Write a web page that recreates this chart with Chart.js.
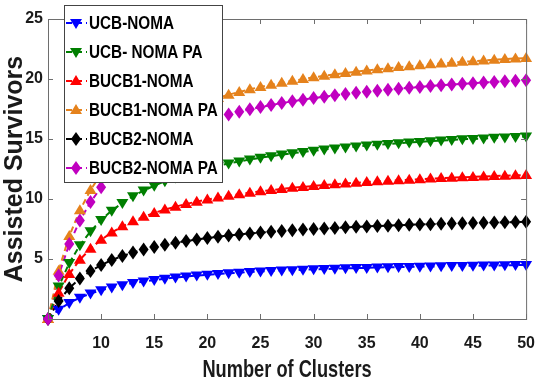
<!DOCTYPE html>
<html>
<head>
<meta charset="utf-8">
<script src="https://cdn.jsdelivr.net/npm/chart.js@4.4.1/dist/chart.umd.min.js"></script>
<style>
  html, body { margin: 0; padding: 0; background: #fff; }
  #chart { display: block; }
</style>
</head>
<body>
<canvas id="chart" width="550" height="388"></canvas>
<script>
// Datos
const clusters = [5, 6, 7, 8, 9, 10, 11, 12, 13, 14, 15, 16, 17, 18, 19, 20, 21, 22, 23, 24, 25, 26, 27,
    28, 29, 30, 31, 32, 33, 34, 35, 36, 37, 38, 39, 40, 41, 42, 43, 44, 45, 46, 47, 48, 49, 50];

const ucbNoma = [0, 0.77, 1.34, 1.78, 2.12, 2.40, 2.63, 2.82, 2.99, 3.13, 3.25, 3.36, 3.46, 3.54, 3.62, 3.69,
    3.75, 3.81, 3.86, 3.91, 3.96, 4.00, 4.04, 4.07, 4.10, 4.14, 4.16, 4.19, 4.22, 4.24, 4.26, 4.29, 4.31,
    4.33, 4.34, 4.36, 4.38, 4.39, 4.41, 4.42, 4.44, 4.45, 4.46, 4.47, 4.49, 4.50];

const ucbNomaPa = [0, 2.70, 4.66, 6.14, 7.31, 8.25, 9.03, 9.67, 10.23, 10.70, 11.11, 11.47, 11.79, 12.08,
    12.33, 12.56, 12.77, 12.96, 13.13, 13.29, 13.44, 13.57, 13.70, 13.82, 13.92, 14.03, 14.12, 14.21, 14.29,
    14.37, 14.45, 14.52, 14.58, 14.65, 14.71, 14.76, 14.82, 14.87, 14.92, 14.97, 15.01, 15.05, 15.10, 15.13,
    15.17, 15.21];

const bucb1Noma = [0, 2.18, 3.75, 4.94, 5.86, 6.60, 7.21, 7.72, 8.15, 8.52, 8.84, 9.12, 9.36, 9.59, 9.78,
    9.96, 10.12, 10.27, 10.40, 10.52, 10.64, 10.74, 10.84, 10.93, 11.01, 11.09, 11.16, 11.23, 11.29, 11.36,
    11.41, 11.47, 11.52, 11.57, 11.61, 11.65, 11.70, 11.74, 11.77, 11.81, 11.84, 11.88, 11.91, 11.94, 11.97,
    12.00];

const bucb1NomaPa = [0, 4.03, 6.91, 9.06, 10.74, 12.09, 13.18, 14.10, 14.87, 15.54, 16.11, 16.62, 17.07,
    17.46, 17.82, 18.13, 18.42, 18.69, 18.92, 19.14, 19.34, 19.52, 19.69, 19.85, 19.99, 20.14, 20.27, 20.39,
    20.50, 20.61, 20.71, 20.81, 20.90, 20.99, 21.07, 21.15, 21.22, 21.29, 21.36, 21.43, 21.48, 21.55, 21.61,
    21.66, 21.71, 21.75];

const bucb2Noma = [0, 1.50, 2.57, 3.38, 4.00, 4.50, 4.91, 5.25, 5.54, 5.79, 6.00, 6.19, 6.35, 6.50, 6.63,
    6.75, 6.86, 6.95, 7.04, 7.13, 7.20, 7.27, 7.33, 7.39, 7.45, 7.50, 7.55, 7.59, 7.64, 7.68, 7.71, 7.75,
    7.78, 7.82, 7.85, 7.88, 7.90, 7.93, 7.95, 7.98, 8.00, 8.02, 8.04, 8.06, 8.08, 8.10];

const bucb2NomaPa = [0, 3.63, 6.24, 8.21, 9.74, 10.97, 11.98, 12.82, 13.53, 14.14, 14.68, 15.14, 15.55,
    15.92, 16.24, 16.54, 16.80, 17.05, 17.27, 17.47, 17.66, 17.83, 17.99, 18.14, 18.28, 18.41, 18.53, 18.64,
    18.75, 18.85, 18.94, 19.03, 19.11, 19.19, 19.27, 19.34, 19.41, 19.48, 19.54, 19.60, 19.65, 19.71, 19.76,
    19.81, 19.86, 19.90];

const seriesNames = ['UCB-NOMA', 'UCB- NOMA PA', 'BUCB1-NOMA', 'BUCB1-NOMA PA', 'BUCB2-NOMA', 'BUCB2-NOMA PA'];
const xTicks = [10, 15, 20, 25, 30, 35, 40, 45, 50];
const yTicks = [5, 10, 15, 20, 25];
const xTitle = 'Number of Clusters';

const sans = "'Liberation Sans', Arial, sans-serif";
const axisColor = '#6e6e6e';
const textColor = '#1a1a1a';

// estilo de cada serie: color y marcador
const styles = [
    { color: '#0000ff', marker: 'down' },
    { color: '#007f00', marker: 'down' },
    { color: '#ff0000', marker: 'up' },
    { color: '#e5821c', marker: 'up' },
    { color: '#000000', marker: 'dia' },
    { color: '#c000c0', marker: 'dia' }
];
const allValues = [ucbNoma, ucbNomaPa, bucb1Noma, bucb1NomaPa, bucb2Noma, bucb2NomaPa];

function drawMarker(ctx, style, x, y) {
    ctx.save();
    ctx.fillStyle = style.color;
    ctx.beginPath();
    if (style.marker === 'dia') {
        ctx.moveTo(x, y - 7);
        ctx.lineTo(x + 5, y);
        ctx.lineTo(x, y + 7);
        ctx.lineTo(x - 5, y);
    } else {
        const s = style.marker === 'down' ? -1 : 1;
        ctx.moveTo(x, y - 6 * s);
        ctx.lineTo(x + 6, y + 4 * s);
        ctx.lineTo(x - 6, y + 4 * s);
    }
    ctx.closePath();
    ctx.fill();
    ctx.restore();
}

// texto estrecho (no hay fuente narrow instalada)
function fillNarrow(ctx, text, x, y, sx) {
    ctx.save();
    ctx.translate(x, y);
    ctx.scale(sx, 1);
    ctx.fillText(text, 0, 0);
    ctx.restore();
}

// marcadores, ejes tipo caja, titulo X y leyenda dentro del area
const boxPlugin = {
    id: 'boxPlugin',
    afterDatasetsDraw(chart) {
        const ctx = chart.ctx;
        chart.data.datasets.forEach((ds, i) => {
            chart.getDatasetMeta(i).data.forEach(pt => drawMarker(ctx, styles[i], pt.x, pt.y));
        });
    },
    afterDraw(chart) {
        const ctx = chart.ctx;
        const a = chart.chartArea;
        const xs = chart.scales.x, ys = chart.scales.y;
        ctx.save();
        ctx.strokeStyle = axisColor;
        ctx.lineWidth = 1;
        ctx.strokeRect(a.left + 0.5, a.top + 0.5, a.right - a.left, a.bottom - a.top);
        ctx.beginPath();
        xTicks.forEach(t => {
            const px = Math.round(xs.getPixelForValue(t)) + 0.5;
            ctx.moveTo(px, a.bottom); ctx.lineTo(px, a.bottom - 5);
            ctx.moveTo(px, a.top); ctx.lineTo(px, a.top + 5);
        });
        yTicks.forEach(t => {
            const py = Math.round(ys.getPixelForValue(t)) + 0.5;
            ctx.moveTo(a.left, py); ctx.lineTo(a.left + 5, py);
            ctx.moveTo(a.right, py); ctx.lineTo(a.right - 5, py);
        });
        ctx.stroke();

        // titulo eje X
        ctx.fillStyle = textColor;
        ctx.font = 'bold 24px ' + sans;
        ctx.textAlign = 'center';
        ctx.textBaseline = 'middle';
        fillNarrow(ctx, xTitle, (a.left + a.right) / 2, 370, 0.76);

        // leyenda
        const lx = 64, ly = 5, lw = 158, lh = 177;
        ctx.fillStyle = '#fff';
        ctx.fillRect(lx, ly, lw, lh);
        ctx.strokeStyle = '#444';
        ctx.strokeRect(lx + 0.5, ly + 0.5, lw, lh);
        ctx.font = 'bold 18px ' + sans;
        ctx.textAlign = 'left';
        seriesNames.forEach((name, i) => {
            const y = 23 + i * 29;
            ctx.strokeStyle = styles[i].color;
            ctx.lineWidth = 2;
            ctx.setLineDash([6, 4]);
            ctx.beginPath();
            ctx.moveTo(66, y); ctx.lineTo(87, y);
            ctx.stroke();
            ctx.setLineDash([]);
            drawMarker(ctx, styles[i], 76, y);
            ctx.fillStyle = '#000';
            fillNarrow(ctx, name, 89, y + 1, 0.85);
        });
        ctx.restore();
    }
};

const ctx = document.getElementById('chart').getContext('2d');

const chart = new Chart(ctx, {
    type: 'line',
    data: {
        datasets: allValues.map((vals, i) => ({
            label: seriesNames[i],
            data: vals.map((v, j) => ({ x: clusters[j], y: v })),
            borderColor: styles[i].color,
            borderWidth: 2,
            borderDash: [6, 4],
            pointRadius: 0,
            fill: false,
            tension: 0
        }))
    },
    options: {
        responsive: false,
        animation: false,
        layout: { padding: { top: 19, right: 14, left: 0, bottom: 0 } },
        plugins: {
            legend: { display: false },
            tooltip: { enabled: false }
        },
        scales: {
            x: {
                type: 'linear',
                min: 5,
                max: 50,
                afterFit: s => { s.height = 69; },
                afterBuildTicks: s => { s.ticks = xTicks.map(v => ({ value: v })); },
                grid: { display: false, drawTicks: false },
                border: { display: false },
                ticks: {
                    color: textColor,
                    padding: 15,
                    maxRotation: 0,
                    font: { family: sans, size: 16, weight: 'bold' }
                }
            },
            y: {
                min: 0,
                max: 25,
                afterFit: s => { s.width = 48; },
                afterBuildTicks: s => { s.ticks = yTicks.map(v => ({ value: v })); },
                grid: { display: false, drawTicks: false },
                border: { display: false },
                ticks: {
                    color: textColor,
                    padding: 5,
                    font: { family: sans, size: 16, weight: 'bold' }
                },
                title: {
                    display: true,
                    text: 'Assisted Survivors',
                    color: textColor,
                    padding: { top: 0, bottom: 0 },
                    font: { family: sans, size: 25, weight: 'bold' }
                }
            }
        }
    },
    plugins: [boxPlugin]
});
</script>
</body>
</html>
